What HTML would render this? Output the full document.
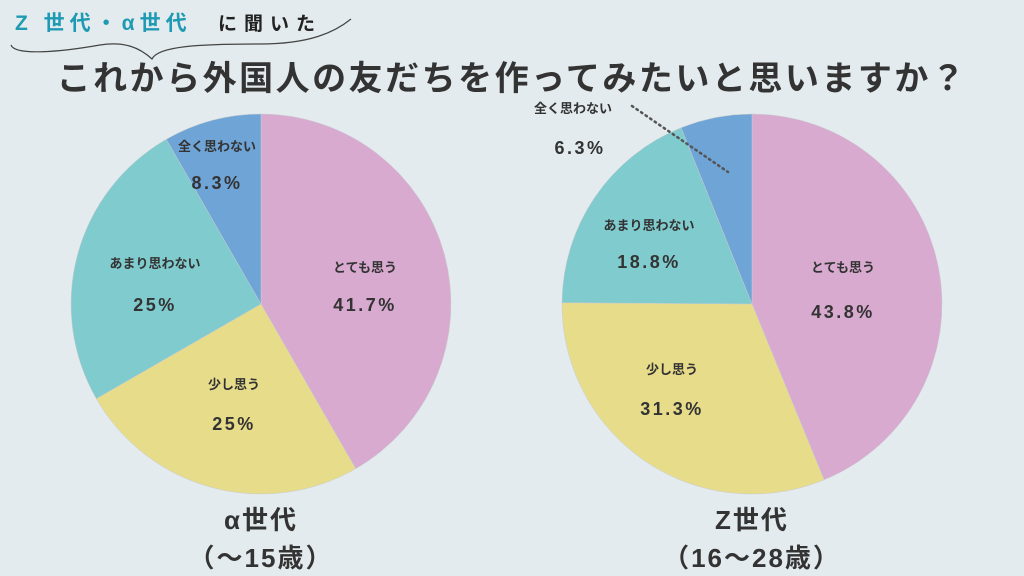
<!DOCTYPE html>
<html><head><meta charset="utf-8"><style>
body{margin:0;width:1024px;height:576px;background:#e3ebee;overflow:hidden;font-family:"Liberation Sans","Noto Sans CJK JP",sans-serif;}
</style></head><body>
<svg width="1024" height="576" xmlns="http://www.w3.org/2000/svg" style="position:absolute;left:0;top:0" font-family="'Liberation Sans','Noto Sans CJK JP',sans-serif">
<text x="15" y="30" font-size="21" font-weight="bold" fill="#1f9ab3" letter-spacing="5">Z 世代・α世代</text>
<text x="218" y="30" font-size="19" font-weight="bold" fill="#222" letter-spacing="7">に聞いた</text>
<path d="M11,45 C15,56 60,52 100,45 C125,41 140,48 152,59 C158,46 200,44 260,44 C310,44 335,32 351,19" fill="none" stroke="#444" stroke-width="1.2"/>
<text x="512" y="90" text-anchor="middle" font-size="34" font-weight="bold" fill="#333" letter-spacing="2.5">これから外国人の友だちを作ってみたいと思いますか？</text>

<g stroke="#c8ccd0" stroke-width="0.5">
<path d="M261,304 L261,114 A190,190 0 0 1 355.7,468.7 Z" fill="#d9aacf"/>
<path d="M261,304 L355.7,468.7 A190,190 0 0 1 96.3,398.7 Z" fill="#e7dc8a"/>
<path d="M261,304 L96.3,398.7 A190,190 0 0 1 166.3,139.3 Z" fill="#80cbce"/>
<path d="M261,304 L166.3,139.3 A190,190 0 0 1 261,114 Z" fill="#6fa4d7"/>
<path d="M752,304 L752,114 A190,190 0 0 1 824.1,479.8 Z" fill="#d9aacf"/>
<path d="M752,304 L824.1,479.8 A190,190 0 0 1 562,302.7 Z" fill="#e7dc8a"/>
<path d="M752,304 L562,302.7 A190,190 0 0 1 681.1,127.7 Z" fill="#80cbce"/>
<path d="M752,304 L681.1,127.7 A190,190 0 0 1 752,114 Z" fill="#6fa4d7"/>
</g>
<line x1="632" y1="106" x2="728" y2="172" stroke="#555" stroke-width="2.5" stroke-dasharray="1.5,4" stroke-linecap="round"/>
<g font-weight="bold" fill="#333" text-anchor="middle">
<g font-size="13">
<text x="365" y="272">とても思う</text>
<text x="234" y="389">少し思う</text>
<text x="155" y="268">あまり思わない</text>
<text x="217" y="151">全く思わない</text>
<text x="843" y="272">とても思う</text>
<text x="672" y="374">少し思う</text>
<text x="649" y="230">あまり思わない</text>
<text x="573" y="113">全く思わない</text>
</g>
<g font-size="18" letter-spacing="2.5">
<text x="365" y="311">41.7%</text>
<text x="234" y="430">25%</text>
<text x="155" y="311">25%</text>
<text x="217" y="189">8.3%</text>
<text x="843" y="318">43.8%</text>
<text x="672" y="415">31.3%</text>
<text x="649" y="268">18.8%</text>
<text x="580" y="154">6.3%</text>
</g>
<g font-size="26" letter-spacing="2">
<text x="261" y="529">α世代</text>
<text x="261" y="567">（〜15歳）</text>
<text x="752" y="529">Z世代</text>
<text x="752" y="567">（16〜28歳）</text>
</g>
</g>
</svg>
</body></html>
